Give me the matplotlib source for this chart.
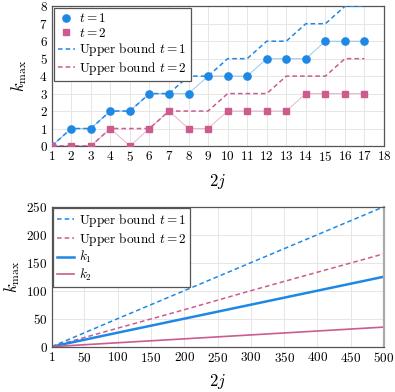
import matplotlib
matplotlib.use("Agg")
import matplotlib.pyplot as plt

plt.rcParams['font.family'] = 'cmr10'
plt.rcParams['mathtext.fontset'] = 'cm'
plt.rcParams['axes.formatter.use_mathtext'] = True
plt.rcParams['font.size'] = 9.5

BLUE = '#1E88E5'
PINK = '#CC5B8E'

# Top panel data
x_small = [1, 2, 3, 4, 5, 6, 7, 8, 9, 10, 11, 12, 13, 14, 15, 16, 17]
k_t1 = [0, 1, 1, 2, 2, 3, 3, 3, 4, 4, 4, 5, 5, 5, 6, 6, 6]
k_t2 = [0, 0, 0, 1, 0, 1, 2, 1, 1, 2, 2, 2, 2, 3, 3, 3, 3]
ub_t1 = [0, 1, 1, 2, 2, 3, 3, 4, 4, 5, 5, 6, 6, 7, 7, 8, 8]
ub_t2 = [0, 0, 0, 1, 1, 1, 2, 2, 2, 3, 3, 3, 4, 4, 4, 5, 5]
top_xticks = list(range(1, 19))
top_yticks = list(range(0, 9))

# Bottom panel data
x_large = [1, 100, 200, 300, 400, 500]
ub1_large = [0, 50, 100, 150, 200, 250]
ub2_large = [0, 33, 66, 100, 133, 166]
k1_large = [0, 25, 50, 75, 100, 125]
k2_large = [0, 7, 14, 21, 28, 35]
bot_xticks = [1, 50, 100, 150, 200, 250, 300, 350, 400, 450, 500]
bot_yticks = [0, 50, 100, 150, 200, 250]

fig = plt.figure(figsize=(3.95, 3.92), dpi=100)
ax1 = fig.add_axes([0.1309, 0.6276, 0.8413, 0.3564])
ax2 = fig.add_axes([0.1309, 0.1156, 0.8413, 0.3571])

def style(ax):
    for s in ax.spines.values():
        s.set_color('#555555')
        s.set_linewidth(0.9)
    ax.grid(True, color='#e6e6e6', linewidth=0.7)
    ax.set_axisbelow(True)
    ax.tick_params(length=0, pad=3, labelsize=9.5)

LEGKW = dict(loc='upper left', fancybox=False, edgecolor='#555555', framealpha=1,
             handlelength=1.3, handletextpad=0.35, labelspacing=0.12,
             borderpad=0.3, fontsize=9.5)

# Top
ax1.plot(x_small, k_t1, color=BLUE, lw=0.7, alpha=0.45, zorder=2)
ax1.plot(x_small, k_t2, color=PINK, lw=0.7, alpha=0.45, zorder=2)
ax1.plot(x_small, ub_t1, color=BLUE, lw=1.1, ls=(0, (3, 2)), label=r'Upper bound $t=1$', zorder=3)
ax1.plot(x_small, ub_t2, color=PINK, lw=1.1, ls=(0, (3, 2)), label=r'Upper bound $t=2$', zorder=3)
ax1.plot(x_small, k_t1, 'o', color=BLUE, ms=5.2, ls='none', label=r'$t=1$', zorder=4)
ax1.plot(x_small, k_t2, 's', color=PINK, ms=4.2, ls='none', label=r'$t=2$', zorder=4)
ax1.set_xlim(1, 18)
ax1.set_ylim(0, 8)
ax1.set_xticks(top_xticks)
ax1.set_yticks(top_yticks)
style(ax1)
ax1.set_xlabel(r'$2j$', fontsize=12, labelpad=6)
ax1.set_ylabel(r'$k_{\max}$', fontsize=12, labelpad=7)
h, l = ax1.get_legend_handles_labels()
order = [2, 3, 0, 1]
leg = ax1.legend([h[i] for i in order], [l[i] for i in order], borderaxespad=0.15, **LEGKW)
leg.get_frame().set_linewidth(0.9)

# Bottom
ax2.plot(x_large, ub1_large, color=BLUE, lw=1.1, ls=(0, (3, 2)), label=r'Upper bound $t=1$')
ax2.plot(x_large, ub2_large, color=PINK, lw=1.1, ls=(0, (3, 2)), label=r'Upper bound $t=2$')
ax2.plot(x_large, k1_large, color=BLUE, lw=1.8, label=r'$k_1$')
ax2.plot(x_large, k2_large, color=PINK, lw=1.2, label=r'$k_2$')
ax2.set_xlim(1, 500)
ax2.set_ylim(0, 250)
ax2.set_xticks(bot_xticks)
ax2.set_yticks(bot_yticks)
style(ax2)
ax2.spines['right'].set_linewidth(1.6)
ax2.spines['right'].set_color('#aaaaaa')
ax2.set_xlabel(r'$2j$', fontsize=12, labelpad=5)
ax2.set_ylabel(r'$k_{\max}$', fontsize=12, labelpad=3)
leg2 = ax2.legend(borderaxespad=0.1, **LEGKW)
leg2.get_frame().set_linewidth(0.9)

fig.savefig('out.png', dpi=100)
